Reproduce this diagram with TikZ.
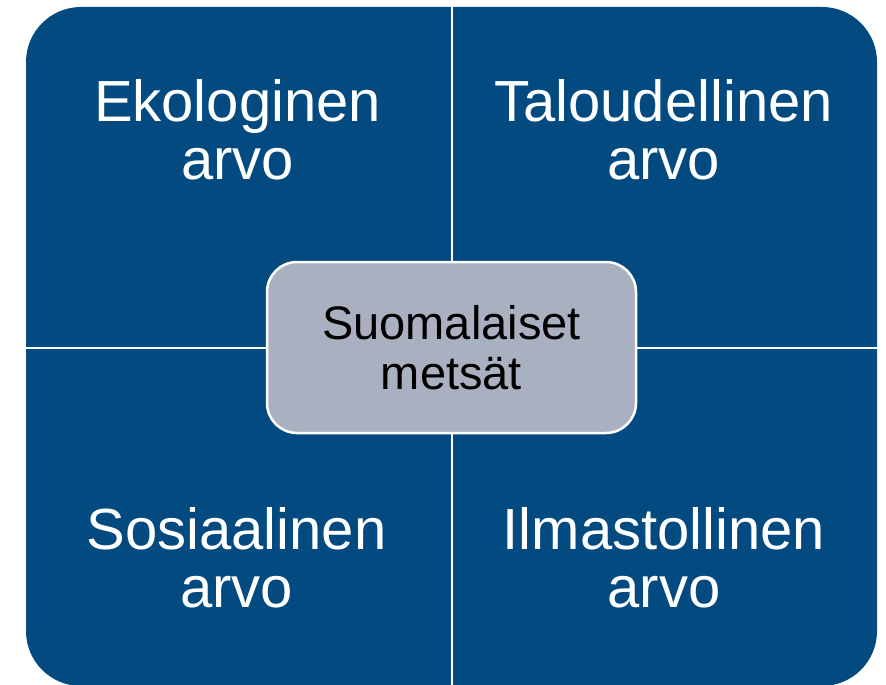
\documentclass[tikz,border=0pt]{standalone}
\usepackage{fontspec}
\setmainfont{Liberation Sans}
\definecolor{qblue}{RGB}{3,74,128}
\definecolor{cgray}{RGB}{169,176,192}
\begin{document}
\begin{tikzpicture}[x=1pt,y=-1pt,
  quadlabel/.style={text=white,align=center,inner sep=0pt,
    font=\fontsize{58}{58}\selectfont},
  centerbox/.style={draw=white,line width=2.5pt,fill=cgray,rounded corners=30pt,
    minimum width=369pt,minimum height=171pt,inner sep=0pt,align=center,
    font=\fontsize{47}{50}\selectfont},
  divider/.style={draw=white,line width=2pt}]
\useasboundingbox (0,0) rectangle (886,685);
% outer rounded panel
\fill[qblue,rounded corners=55pt] (26,7) rectangle (877,686);
% dividers
\coordinate (dtop) at (452,7);
\coordinate (dbot) at (452,686);
\coordinate (dleft) at (26,348);
\coordinate (dright) at (877,348);
\draw[divider] (dtop) -- (dbot);
\draw[divider] (dleft) -- (dright);
% labels
\node[quadlabel] (eko) at (237.5,130) {Ekologinen\\arvo};
\node[quadlabel] (talo) at (663.5,130) {Taloudellinen\\arvo};
\node[quadlabel] (sos) at (236.5,558) {Sosiaalinen\\arvo};
\node[quadlabel] (ilm) at (664,558) {Ilmastollinen\\arvo};
% center
\node[centerbox] (center) at (451.5,347.5) {Suomalaiset\\metsät};
\end{tikzpicture}
\end{document}
